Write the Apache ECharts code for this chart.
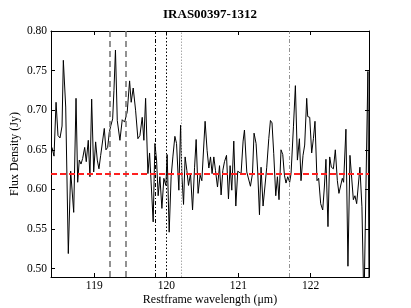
<!DOCTYPE html>
<html><head><meta charset="utf-8">
<script src="https://cdn.jsdelivr.net/npm/echarts@6/dist/echarts.min.js"></script>
<style>html,body{margin:0;padding:0;background:#fff}#c{width:411px;height:308px}</style>
</head><body><div id="c"></div>
<script>
const wavelength = [118.414,118.442,118.470,118.497,118.525,118.553,118.571,118.604,118.640,118.673,118.715,118.747,118.770,118.792,118.816,118.839,118.867,118.889,118.917,118.940,118.964,118.992,119.019,119.042,119.065,119.089,119.116,119.139,119.162,119.186,119.208,119.231,119.255,119.273,119.294,
119.319,119.356,119.388,119.421,119.457,119.490,119.512,119.540,119.573,119.605,119.633,119.665,119.688,119.712,119.744,119.767,119.789,119.817,119.841,119.864,119.886,119.910,119.938,119.965,119.993,120.011,120.039,120.066,120.090,120.118,120.141,120.173,
120.197,120.215,120.238,120.260,120.284,120.307,120.335,120.363,120.391,120.413,120.440,120.468,120.492,120.515,120.537,120.565,120.589,120.612,120.634,120.658,120.681,120.709,120.737,120.759,120.783,120.806,120.834,120.861,120.884,120.907,120.935,120.963,120.990,121.014,121.036,121.064,
121.083,121.115,121.139,121.166,121.194,121.216,121.244,121.267,121.291,121.313,121.341,121.364,121.392,121.420,121.443,121.465,121.489,121.517,121.540,121.562,121.590,121.614,121.637,121.659,121.683,121.710,121.729,121.762,121.789,121.817,121.845,121.867,121.895,121.918,121.946,
121.960,121.988,122.015,122.039,122.061,122.089,122.112,122.140,122.168,122.191,122.213,122.241,122.265,122.288,122.316,122.343,122.371,122.393,122.417,122.440,122.458,122.490,122.518,122.546,122.565,122.593,122.615,122.639,122.662,122.684,122.712,122.740,122.767,122.795,122.812];
const flux = [0.653,0.642,0.710,0.668,0.665,0.680,0.763,0.704,0.519,0.623,0.571,0.715,0.609,0.637,0.632,0.639,0.653,0.635,0.662,0.616,0.714,0.622,0.660,0.637,0.626,0.643,0.644,0.677,0.650,0.653,0.672,0.681,0.689,0.725,0.776,
0.687,0.662,0.688,0.685,0.698,0.737,0.710,0.728,0.700,0.664,0.668,0.691,0.662,0.715,0.620,0.646,0.646,0.559,0.658,0.637,0.592,0.616,0.576,0.614,0.605,0.644,0.546,0.616,0.641,0.667,0.658,0.599,
0.681,0.618,0.581,0.641,0.624,0.605,0.620,0.574,0.628,0.663,0.595,0.618,0.611,0.611,0.686,0.649,0.627,0.641,0.620,0.641,0.624,0.603,0.630,0.593,0.624,0.635,0.643,0.588,0.630,0.599,0.661,0.579,0.623,0.625,0.620,0.661,
0.675,0.622,0.620,0.604,0.620,0.671,0.658,0.622,0.568,0.628,0.579,0.581,0.628,0.664,0.687,0.684,0.645,0.592,0.616,0.587,0.650,0.644,0.618,0.608,0.616,0.609,0.620,0.679,0.731,0.637,0.664,0.611,0.643,0.656,0.715,
0.692,0.691,0.646,0.664,0.686,0.611,0.614,0.582,0.574,0.603,0.638,0.553,0.641,0.628,0.626,0.650,0.611,0.595,0.595,0.614,0.609,0.676,0.503,0.643,0.642,0.587,0.592,0.582,0.582,0.628,0.578,0.450,0.600,0.749,0.450];
const xTicks = [119, 120, 121, 122];
const yTicks = [0.50, 0.55, 0.60, 0.65, 0.70, 0.75, 0.80];
const yTickLabels = ['0.50','0.55','0.60','0.65','0.70','0.75','0.80'];
const continuumLevel = 0.617;
const dashedLines = [119.22, 119.435];
const dashDotBlack = [119.845];
const dottedBlack = [120.0];
const dottedGray = [120.196];
const dashDotGray = [121.70];

const FONT = 'Liberation Serif';
const xr = [118.40, 122.81], yr = [0.4894, 0.80];
const lineData = wavelength.map((w, i) => [w, flux[i]]);

function vline(vals, color, type, width) {
  return vals.map(v => ({xAxis: v, lineStyle: {color: color, type: type, width: width}}));
}

const axisCommon = {
  axisLine: {show: true, lineStyle: {color: '#000', width: 1}},
  splitLine: {show: false},
};

const option = {
  animation: false,
  backgroundColor: '#fff',
  title: {text: 'IRAS00397-1312', left: 205, top: 3, textAlign: 'center',
    textStyle: {fontFamily: FONT, fontWeight: 'bold', fontSize: 13, color: '#000'}},
  grid: {left: 51, right: 42, top: 31, bottom: 31, containLabel: false, outerBoundsMode: 'none'},
  xAxis: [
    Object.assign({type: 'value', min: xr[0], max: xr[1], position: 'bottom',
      name: 'Restframe wavelength (μm)', nameLocation: 'middle', nameGap: 17, nameMoveOverlap: false,
      nameTextStyle: {fontFamily: FONT, fontSize: 12, color: '#000'},
      axisTick: {show: true, inside: true, length: 4, customValues: xTicks, lineStyle: {color: '#000'}},
      axisLabel: {show: true, customValues: xTicks, fontFamily: FONT, fontSize: 11.5, color: '#000', margin: 3}}, axisCommon),
    Object.assign({type: 'value', min: xr[0], max: xr[1], position: 'top',
      axisTick: {show: true, inside: true, length: 4, customValues: xTicks, lineStyle: {color: '#000'}},
      axisLabel: {show: false}}, axisCommon)
  ],
  yAxis: [
    Object.assign({type: 'value', min: yr[0], max: yr[1], position: 'left',
      name: 'Flux Density (Jy)', nameLocation: 'middle', nameGap: 30, nameMoveOverlap: false,
      nameTextStyle: {fontFamily: FONT, fontSize: 12, color: '#000'},
      axisTick: {show: true, inside: true, length: 4, customValues: yTicks, lineStyle: {color: '#000'}},
      axisLabel: {show: true, customValues: yTicks, fontFamily: FONT, fontSize: 11.5, color: '#000', margin: 4,
        formatter: v => { const i = yTicks.findIndex(t => Math.abs(t - v) < 1e-6); return i >= 0 ? yTickLabels[i] : ''; }}}, axisCommon),
    Object.assign({type: 'value', min: yr[0], max: yr[1], position: 'right',
      axisTick: {show: true, inside: true, length: 4, customValues: yTicks, lineStyle: {color: '#000'}},
      axisLabel: {show: false}}, axisCommon)
  ],
  series: [{
    type: 'line', data: lineData, xAxisIndex: 0, yAxisIndex: 0,
    showSymbol: false, clip: true,
    lineStyle: {color: '#000', width: 1},
    markLine: {
      silent: true, symbol: 'none', label: {show: false}, animation: false,
      data: [].concat(
        vline(dashedLines, '#777', [6, 4], 1.6),
        vline(dashDotBlack, '#000', [4, 2, 1, 2], 1),
        vline(dottedBlack, '#000', [1.5, 2], 1),
        vline(dottedGray, '#aaa', [1.5, 1.5], 1),
        vline(dashDotGray, '#777', [4, 2, 1, 2], 0.8),
        [{yAxis: continuumLevel, lineStyle: {color: '#ff2020', type: [6, 3], width: 2}}]
      )
    }
  }]
};
const chart = echarts.init(document.getElementById('c'), null, {renderer: 'canvas'});
chart.setOption(option);
</script></body></html>
